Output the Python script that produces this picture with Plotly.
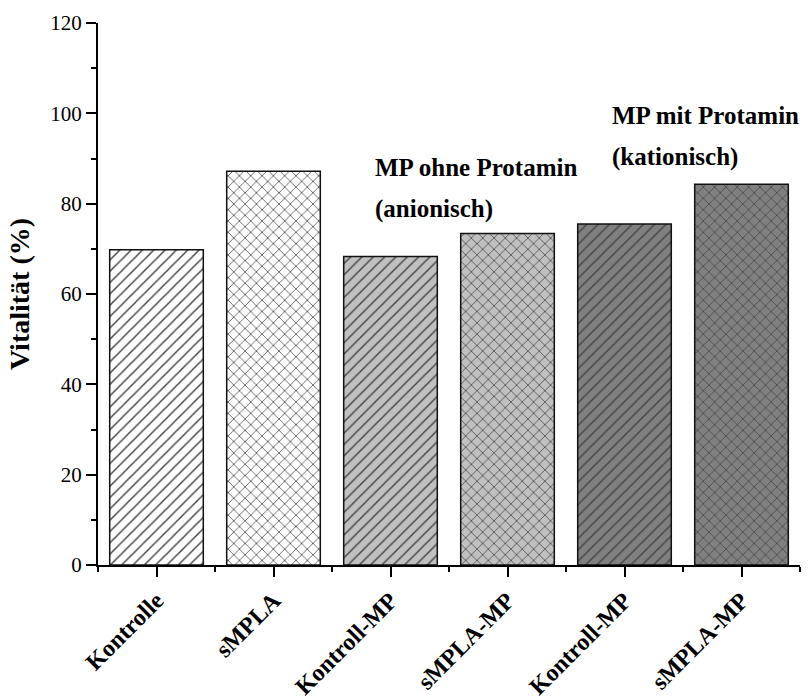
import plotly.graph_objects as go

# Cell viability per treatment group
categories = ["Kontrolle", "sMPLA", "Kontroll-MP", "sMPLA-MP", "Kontroll-MP", "sMPLA-MP"]
vitality = [69.8, 87.2, 68.3, 73.4, 75.5, 84.3]
fill_colors = ["#ffffff", "#ffffff", "#c0c0c0", "#c0c0c0", "#808080", "#808080"]
hatches = ["/", "x", "/", "x", "/", "x"]

y_ticks = [0, 20, 40, 60, 80, 100, 120]
# Group captions, one entry per text line
group_labels = [
    {"text": "MP ohne Protamin", "x": 1.85, "y": 88.1},
    {"text": "(anionisch)", "x": 1.85, "y": 78.8},
    {"text": "MP mit Protamin", "x": 3.88, "y": 99.6},
    {"text": "(kationisch)", "x": 3.88, "y": 90.3},
]

SERIF = "Liberation Serif, Times New Roman, serif"
positions = list(range(len(categories)))

fig = go.Figure()
fig.add_trace(go.Bar(
    x=positions,
    y=vitality,
    width=0.8,
    marker=dict(
        color=fill_colors,
        line=dict(color="#111111", width=1.5),
        pattern=dict(shape=hatches, fillmode="overlay", fgcolor="#111111",
                     fgopacity=1, size=8, solidity=0.18),
    ),
    showlegend=False,
))

for g in group_labels:
    fig.add_annotation(
        x=g["x"], y=g["y"], xref="x", yref="y",
        text="<b>" + g["text"] + "</b>",
        showarrow=False, align="left", xanchor="left", yanchor="middle",
        font=dict(family=SERIF, size=25, color="black"),
    )

fig.update_layout(
    width=811, height=700,
    margin=dict(l=98, r=11, t=23, b=135),
    paper_bgcolor="white", plot_bgcolor="white",
    font=dict(family=SERIF, color="black"),
    bargap=0.2,
)

fig.update_xaxes(
    range=[-0.5, 5.5], automargin=False,
    tickmode="array", tickvals=positions,
    ticktext=["<b>" + c + "</b>" for c in categories],
    tickangle=-45, tickfont=dict(family=SERIF, size=24, color="black"),
    ticks="outside", ticklen=10, tickwidth=2, tickcolor="black",
    showline=True, linecolor="black", linewidth=2,
    showgrid=False, zeroline=False,
    minor=dict(tickmode="linear", tick0=-0.5, dtick=1, ticks="outside",
               ticklen=5, tickwidth=2, tickcolor="black"),
)

fig.update_yaxes(
    range=[0, 120], automargin=False,
    tickmode="array", tickvals=y_ticks,
    tickfont=dict(family=SERIF, size=21, color="black"),
    ticks="outside", ticklen=10, tickwidth=2, tickcolor="black",
    showline=True, linecolor="black", linewidth=2,
    showgrid=False, zeroline=False,
    minor=dict(tickmode="linear", tick0=0, dtick=10, ticks="outside",
               ticklen=5, tickwidth=2, tickcolor="black"),
    title=dict(text="<b>Vitalität (%)</b>", font=dict(family=SERIF, size=28, color="black"),
               standoff=12),
)

fig.write_html("out.html")
